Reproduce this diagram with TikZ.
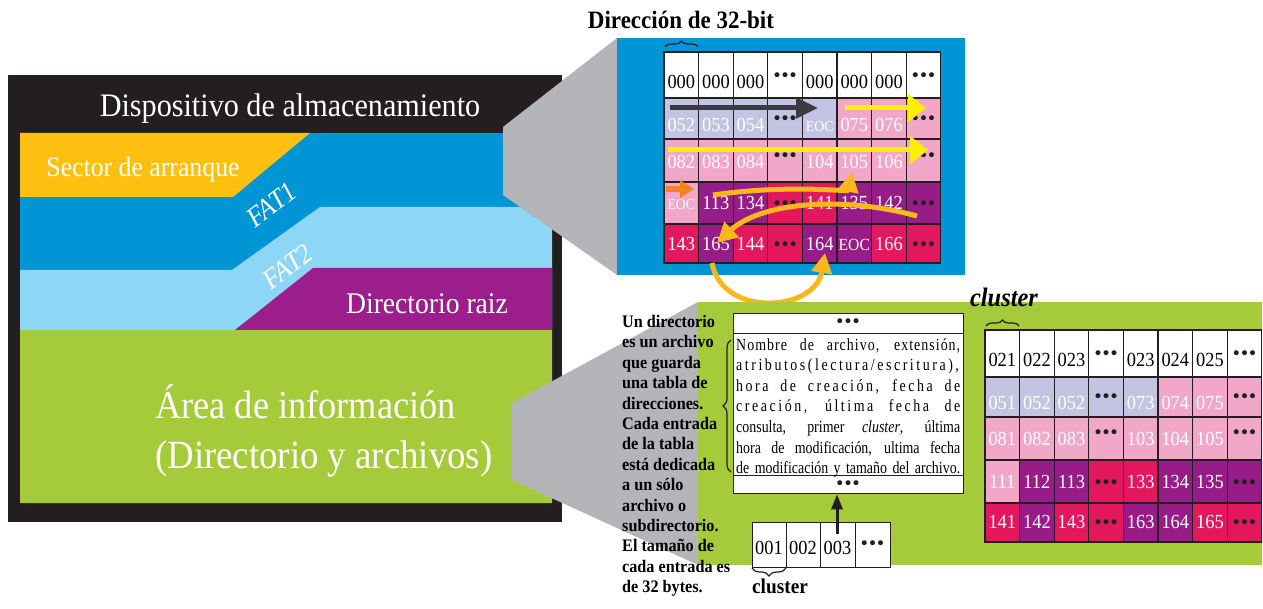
\documentclass[tikz,border=0pt]{standalone}
\usepackage{fontspec}
\setmainfont{Liberation Serif}[FakeStretch=0.92]
\newfontfamily\dirfont{Liberation Serif}[FakeStretch=0.82]
\newfontfamily\dirls{Liberation Serif}[FakeStretch=0.82,LetterSpace=15]
\newfontfamily\dirlsa{Liberation Serif}[FakeStretch=0.82,LetterSpace=6]
\newfontfamily\dotf{DejaVu Sans}
\usetikzlibrary{arrows.meta,decorations.pathreplacing}
\definecolor{panelblack}{HTML}{231F20}
\definecolor{bandyellow}{HTML}{FDC010}
\definecolor{bandblue}{HTML}{0096D6}
\definecolor{bandlight}{HTML}{8ED6F5}
\definecolor{bandpurple}{HTML}{9C1E8D}
\definecolor{bandgreen}{HTML}{A6CB3A}
\definecolor{connectgray}{HTML}{B3B5B8}
\definecolor{lav}{HTML}{C4C3E2}
\definecolor{pnk}{HTML}{F2A7C9}
\definecolor{crim}{HTML}{E3175E}
\definecolor{purp}{HTML}{981C87}
\definecolor{arrowdark}{HTML}{3A3A45}
\definecolor{arrowyel}{HTML}{FFF000}
\definecolor{arrowgold}{HTML}{F8B81C}
\definecolor{arroworange}{HTML}{F58220}
\newcommand\myfs[1]{\fontsize{#1}{#1}\selectfont}
\newcommand\tdots{{\color{panelblack}\dotf\fontsize{17}{17}\selectfont •\kern-2pt•\kern-2pt•}}
\newcommand\tdu{\raisebox{7pt}{\tdots}}
\newcommand\eocs{{\myfs{15}EOC}}
\newcommand\trow[7]{%
  \foreach \cellc/\cellt [count=\i from 0] in {#7}{%
    \node[cellbox, fill=\cellc, minimum height=#4] (#1-\i) at ({#2+34.6*\i+17.3},{#3+#4/2}) {};
    \node[celltext, text=#6] (#1-\i-t) at ({#2+34.6*\i+17.3},#5) {\cellt};
  }}
\begin{document}
\begin{tikzpicture}[x=1pt,y=-1pt,
  wtext/.style={text=white, inner sep=0},
  cellbox/.style={rectangle, draw=panelblack, line width=1.3pt, minimum width=34.6, inner sep=0},
  celltext/.style={inner sep=0, anchor=base, font=\myfs{20}},
  wbox/.style={rectangle, draw=panelblack, line width=1.3pt, fill=white, inner sep=0, anchor=north west},
  arrdark/.style={draw=arrowdark, line width=5pt, -{Triangle[length=22pt,width=20pt]}},
  arryel/.style={draw=arrowyel, line width=5pt, -{Triangle[length=18pt,width=27pt]}},
  arrgold/.style={draw=arrowgold, line width=5pt, -{Triangle[length=20pt,width=20pt]}},
  arrorange/.style={draw=arroworange, line width=6pt, -{Triangle[length=14pt,width=17pt]}},
  dirarrow/.style={draw=panelblack, line width=3pt, -{Triangle[length=15pt,width=11pt]}},
  bracestyle/.style={draw=panelblack, line width=1.2pt, decorate},
]
\fill[white] (0,0) rectangle (1263,609);
\useasboundingbox (0,0) rectangle (1263,609);

% ---------- left panel ----------
\fill[panelblack] (8,75) rectangle (562,522);
\fill[bandblue] (20,133) rectangle (552,503);
\fill[bandyellow] (20,133) -- (310,133) -- (233,197) -- (20,197) -- cycle;
\fill[bandlight] (20,270) -- (232,270) -- (320,207) -- (552,207) -- (552,503) -- (20,503) -- cycle;
\fill[bandpurple] (235,330) -- (313,268) -- (552,268) -- (552,330) -- cycle;
\fill[bandgreen] (20,330) rectangle (552,503);

\node[wtext, font=\myfs{32.8}, anchor=base] (title) at (290,117) {Dispositivo de almacenamiento};
\node[wtext, font=\myfs{28}, anchor=base] (boot) at (143,177) {Sector de arranque};
\node[wtext, font=\itshape\myfs{28}, rotate=37, anchor=base] (fat1) at (277,212) {FAT1};
\node[wtext, font=\itshape\myfs{28}, rotate=37, anchor=base] (fat2) at (293,274) {FAT2};
\node[wtext, font=\myfs{30}, anchor=base] (root) at (427,314) {Directorio raiz};
\node[wtext, font=\myfs{39.5}, anchor=base west] (area1) at (155,418) {Área de información};
\node[wtext, font=\myfs{40}, anchor=base west] (area2) at (155,468) {(Directorio y archivos)};

% ---------- connectors (gray) ----------
\fill[connectgray] (503,127) -- (617,38) -- (617,275) -- (503,195) -- cycle;
\fill[connectgray] (512,403) -- (698,302) -- (698,565) -- (512,480) -- cycle;

% ---------- FAT panel ----------
\fill[bandblue] (617,38) rectangle (965,275);
\trow{u0}{664}{52}{46}{88.5}{black}{white/000,white/000,white/000,white/\tdu,white/000,white/000,white/000,white/\tdu}
\trow{u1}{664}{98}{41}{131.5}{white}{lav/052,lav/053,lav/054,lav/\tdu,lav/\eocs,pnk/075,pnk/076,pnk/\tdu}
\trow{u2}{664}{139}{43}{168.5}{white}{pnk/082,pnk/083,pnk/084,pnk/\tdu,pnk/104,pnk/105,pnk/106,pnk/\tdu}
\trow{u3}{664}{182}{42}{209.5}{white}{pnk/\eocs,purp/113,purp/134,crim/\tdots,crim/141,purp/135,purp/142,purp/\tdots}
\trow{u4}{664}{224}{39}{250.5}{white}{crim/143,purp/165,crim/144,crim/\tdots,purp/164,purp/{\myfs{17}EOC},crim/166,crim/\tdots}

\node[font=\bfseries\myfs{25}, inner sep=0, anchor=base] (addr) at (681,29) {Dirección de 32-bit};
\draw[bracestyle, decoration={brace,amplitude=6pt}] (665,47) -- (698,47);

% arrows in FAT
\coordinate (dkA) at (670,108); \coordinate (dkB) at (818,108);
\draw[arrdark] (dkA) -- (dkB);
\coordinate (y1A) at (845,108); \coordinate (y1B) at (926,108);
\draw[arryel] (y1A) -- (y1B);
\coordinate (y2A) at (668,150); \coordinate (y2B) at (928,150);
\draw[arryel] (y2A) -- (y2B);
\coordinate (orA) at (666,189); \coordinate (orB) at (694,189);
\draw[arrorange] (orA) -- (orB);
\coordinate (g1A) at (713,195); \coordinate (g1B) at (852,172);
\draw[arrgold] (g1A) .. controls (790,184) and (848,192) .. (g1B);
\coordinate (g2A) at (917,216); \coordinate (g2B) at (717,243);
\draw[arrgold] (g2A) .. controls (840,195) and (760,203) .. (g2B);
\coordinate (g3A) at (712,263); \coordinate (g3B) at (825,253);
\draw[arrgold] (g3A) .. controls (722,318) and (815,312) .. (g3B);

% ---------- data area panel ----------
\fill[bandgreen] (698,302) rectangle (1262,565);

\node[font=\bfseries\fontsize{17.6}{20.4}\selectfont, align=left, inner sep=0, anchor=north west] (para) at (622,315) {%
Un directorio\\es un archivo\\que guarda\\una tabla de\\direcciones.\\Cada entrada\\de la tabla\\está dedicada\\a un sólo\\archivo o\\subdirectorio.\\El tamaño de\\cada entrada es\\de 32 bytes.};

\node[wbox, minimum width=230, minimum height=20] (dtop) at (733,313) {};
\node[wbox, minimum width=230, minimum height=142] (dmid) at (733,333) {};
\node[wbox, minimum width=230, minimum height=18] (dbot) at (733,475) {};
\node[celltext] (dtopt) at (848,328) {\tdots};
\node[celltext] (dbott) at (848,489) {\tdots};
\node[anchor=north west, inner sep=0, align=left, font=\dirfont\fontsize{17}{20.6}\selectfont] (dirtext) at (736,338) {%
\makebox[224pt][s]{\dirlsa Nombre de archivo, extensión,}\\
\makebox[224pt][s]{\dirls atributos(lectura/escritura),}\\
\makebox[224pt][s]{\dirls hora de creación, fecha de}\\
\makebox[224pt][s]{\dirls creación, última fecha de}\\
\makebox[224pt][s]{consulta, primer \textit{cluster}, última}\\
\makebox[224pt][s]{hora de modificación, ultima fecha}\\
\makebox[224pt][s]{de modificación y tamaño del archivo.}};
\draw[bracestyle, decoration={brace,amplitude=8pt}] (731,472) -- (731,340);

% cluster chain
\node[wbox, minimum width=34, minimum height=45] (c1) at (752,522) {};
\node[wbox, minimum width=34, minimum height=45] (c2) at (786,522) {};
\node[wbox, minimum width=35, minimum height=45] (c3) at (820,522) {};
\node[wbox, minimum width=35, minimum height=45] (c4) at (855,522) {};
\node[celltext] (c1t) at (769,554) {001};
\node[celltext] (c2t) at (803,554) {002};
\node[celltext] (c3t) at (837.5,554) {003};
\node[celltext] (c4t) at (872.5,549) {\tdots};
\coordinate (arrS) at (837,534);
\draw[dirarrow] (arrS) -- (arrS |- dbot.south);
\draw[bracestyle, decoration={brace,amplitude=8pt}] (786,568) -- (752,568);
\node[font=\bfseries\myfs{21}, inner sep=0, anchor=base] (clb) at (780,593) {cluster};

% right table
\node[font=\bfseries\itshape\myfs{26.6}, inner sep=0, anchor=base] (clt) at (1004,307) {cluster};
\draw[bracestyle, decoration={brace,amplitude=6pt}] (986,326) -- (1019,326);
\trow{l0}{985}{330}{47}{366.5}{black}{white/021,white/022,white/023,white/\tdu,white/023,white/024,white/025,white/\tdu}
\trow{l1}{985}{377}{40}{409.5}{white}{lav/051,lav/052,lav/052,lav/\tdu,lav/073,pnk/074,pnk/075,pnk/\tdu}
\trow{l2}{985}{417}{43}{445.5}{white}{pnk/081,pnk/082,pnk/083,pnk/\tdu,pnk/103,pnk/104,pnk/105,pnk/\tdu}
\trow{l3}{985}{460}{43}{488.5}{white}{pnk/111,purp/112,purp/113,crim/\tdots,crim/133,purp/134,purp/135,purp/\tdots}
\trow{l4}{985}{503}{39}{528.5}{white}{crim/141,purp/142,crim/143,crim/\tdots,purp/163,purp/164,crim/165,crim/\tdots}
\end{tikzpicture}
\end{document}
